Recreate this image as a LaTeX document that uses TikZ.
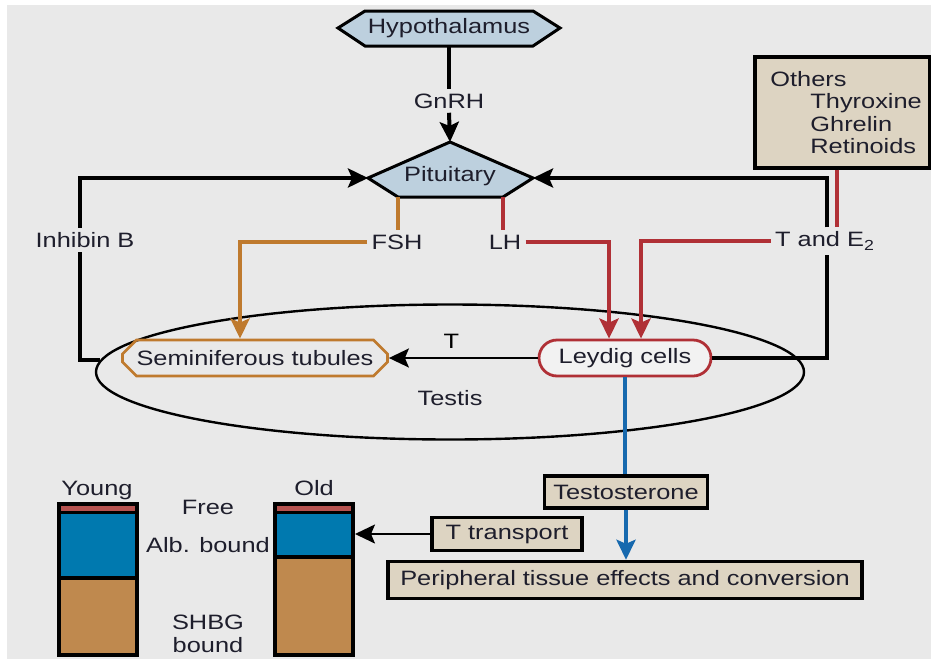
\documentclass[tikz,border=0pt]{standalone}
\usepackage{fontspec}
\setmainfont{Liberation Sans}[FakeStretch=1.22]
\usetikzlibrary{arrows.meta, shapes.misc, shapes.geometric}

\definecolor{bggray}{HTML}{E9E9E9}
\definecolor{boxblue}{HTML}{BDD0DE}
\definecolor{beige}{HTML}{DDD4C2}
\definecolor{fshorange}{HTML}{BF7A2E}
\definecolor{lhred}{HTML}{B03036}
\definecolor{tblue}{HTML}{1769AE}
\definecolor{barblue}{HTML}{0079AF}
\definecolor{barbrown}{HTML}{BF894E}
\definecolor{barred}{HTML}{B5524F}
\definecolor{inkdark}{HTML}{1E1E2C}

\begin{document}
\begin{tikzpicture}[x=0.5pt, y=-0.5pt, >={Stealth[length=10pt,width=9.5pt,inset=2pt]},
  font=\fontsize{10.4}{11.2}\selectfont, text=inkdark,
  fb/.style={line width=2pt, black},
  tarrow/.style={line width=1pt, black},
  lh/.style={line width=2pt, lhred},
  fsh/.style={line width=2pt, fshorange},
  tb/.style={line width=2pt, tblue},
  tbox/.style={draw=black, line width=1.7pt, fill=beige, inner sep=0pt},
  lbl/.style={inner sep=2pt}]

\useasboundingbox (0,0) rectangle (931,659);
\fill[bggray] (7,5) rectangle (931,659);

% hypothalamus and pituitary
\draw[line width=1.5pt, fill=boxblue] (338,28) -- (365,11) -- (533,11) -- (560,28) -- (533,46) coordinate (hypoBR) -- (365,46) -- cycle;
\coordinate (hypoS) at (449,46);
\node[lbl] (hypo) at (449,28) {Hypothalamus};

\draw[line width=1.5pt, fill=boxblue] (450,142) coordinate (pitN) -- (533,178) coordinate (pitE) -- (503,197) coordinate (pitBR)
  -- (398,197) coordinate (pitBL) -- (368,178) coordinate (pitW) -- cycle;
\node[lbl] (pit) at (450,176) {Pituitary};

\node[lbl] (gnrh) at (449,101) {GnRH};
\draw[fb] (hypoS) -- (gnrh.north);
\draw[fb, ->] (gnrh.south) -- (pitN);

% others box
\node[tbox, minimum width=87.5pt, minimum height=55.5pt] (others) at (842.5,112.5) {};
\node[anchor=north west, align=left, inner sep=0pt] (othtxt) at (770,71)
  {Others\\\hspace*{20pt}Thyroxine\\\hspace*{20pt}Ghrelin\\\hspace*{20pt}Retinoids};

% labels of the hormones
\node[lbl] (inhib) at (85,240) {Inhibin B};
\node[lbl] (fsh) at (397,242) {FSH};
\node[lbl] (lh) at (505,242) {LH};
\node[lbl] (te2) at (825,241) {T and E\textsubscript{2}};

% testis
\node[draw, ellipse, line width=1.2pt, minimum width=354pt, minimum height=67.5pt, inner sep=0pt] (testis) at (450,372) {};
\node[lbl] (testlab) at (450,398) {Testis};
\node[draw=fshorange, line width=1.4pt, chamfered rectangle, chamfered rectangle xsep=3.5pt, chamfered rectangle ysep=3.5pt,
  minimum width=132.5pt, minimum height=18pt, inner sep=0pt] (semi) at (255,358) {Seminiferous tubules};
\node[draw=lhred, line width=1.4pt, fill=bggray!60!white, rounded rectangle, minimum width=86pt, minimum height=18pt, inner sep=0pt] (leydig) at (625,358) {Leydig cells};

\draw[tarrow, ->] (leydig.west) -- (semi.east) node[pos=0.58, above=1pt] (tlab) {T};

% feedback loops
\coordinate (lcol) at (80,0);
\coordinate (rcol) at (827,0);
\draw[fb] (testis.178) -| (lcol |- inhib.south);
\draw[fb, ->] (lcol |- inhib.north) |- (pitW);
\draw[fb] (leydig.east) -| (rcol |- te2.south);
\draw[fb, ->] (rcol |- te2.north) |- (pitE);

% gonadotropins
\draw[fsh] (pitBL) -- (pitBL |- fsh.north);
\draw[fsh, ->] (fsh.west) -| ([xshift=-7.5pt]semi.north);
\draw[lh] (pitBR) -- (pitBR |- lh.north);
\draw[lh, ->] (lh.east) -| ([xshift=-8pt]leydig.north);
\draw[lh] ([xshift=-2.75pt]others.south) -- ([xshift=-2.75pt]others.south |- te2.north);
\draw[lh, ->] (te2.west) -| ([xshift=8pt]leydig.north);

% testosterone
\node[tbox, minimum width=81.5pt, minimum height=16pt] (testo) at (626,492) {Testosterone};
\node[tbox, minimum width=75pt, minimum height=16.5pt] (ttrans) at (507,534) {T transport};
\node[tbox, minimum width=237pt, minimum height=18.5pt] (periph) at (625,580) {Peripheral tissue effects and conversion};
\draw[tb] (leydig.south) -- (leydig.south |- testo.north);
\draw[tb, ->] (testo.south) -- (testo.south |- periph.north);

% bars
\fill[black] (57,502) rectangle (139,657);
\fill[barred] (61,506) rectangle (135,511);
\fill[barblue] (61,514) rectangle (135,576);
\fill[barbrown] (61,580) rectangle (135,653);
\fill[black] (273,502) rectangle (355,657);
\fill[barred] (277,506) rectangle (351,511);
\fill[barblue] (277,514) rectangle (351,555);
\fill[barbrown] (277,559) rectangle (351,653);
\coordinate (oldE) at (355,535);
\draw[tarrow, ->] (ttrans.west) -- (ttrans.west -| oldE);

\node[anchor=base] (young) at (97,495) {Young};
\node[anchor=base] (old) at (314,495) {Old};
\node[anchor=base] (free) at (208,514) {Free};
\node[anchor=base] (alb) at (208,552) {Alb. bound};
\node[anchor=base] (shbg) at (208,629) {SHBG};
\node[anchor=base] (bnd) at (208,652) {bound};

\end{tikzpicture}
\end{document}
